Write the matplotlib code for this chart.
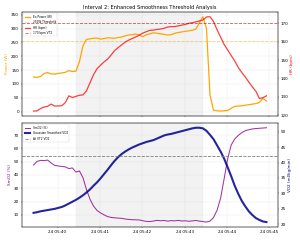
import matplotlib
matplotlib.use("Agg")
import matplotlib.pyplot as plt
import pandas as pd

# datos, cada 5 s desde 05:39:26
t0 = "2024-01-24 05:39:26"
n_pts = 67

power = [125, 124, 127, 138, 141, 136, 136, 138, 140, 142, 148, 145, 146, 180,
         238, 261, 263, 265, 266, 262, 264, 267, 266, 265, 268, 270, 274, 277,
         278, 281, 276, 271, 278, 281, 285, 283, 281, 279, 277, 278, 283, 286,
         288, 290, 292, 294, 298, 322, 343, 300, 60, 5, 3, 2, 3, 4, 12, 19, 20,
         21, 23, 25, 27, 29, 33, 48, 38]

hr = [122.2, 122.3, 123.6, 124.4, 124.8, 126.0, 124.9, 125.0, 125.1, 126.8,
      130.5, 129.6, 130.2, 130.8, 131.0, 133.2, 137.6, 142.0, 145.3, 147.2,
      149.0, 150.5, 152.8, 155.2, 156.8, 158.3, 159.8, 160.9, 161.8, 162.6,
      163.6, 164.7, 165.5, 166.2, 166.3, 166.7, 166.9, 167.3, 168.0, 168.2,
      168.2, 168.6, 169.0, 169.4, 170.0, 170.3, 170.8, 171.3, 171.8, 173.5,
      173.6, 171.0, 166.5, 162.5, 158.5, 155.5, 152.5, 149.5, 146.0, 143.2,
      140.8, 138.0, 135.4, 133.0, 129.0, 129.5, 130.5]

smo2 = [47.5, 50.2, 51.0, 50.8, 51.2, 49.0, 47.2, 46.8, 46.4, 46.1, 44.8, 45.3,
        42.2, 43.0, 38.0, 29.0, 21.8, 16.6, 13.3, 11.5, 10.0, 8.7, 8.1, 7.8,
        7.6, 7.4, 6.9, 6.6, 6.4, 6.3, 6.2, 5.6, 5.1, 5.0, 5.4, 5.9, 5.6, 5.8,
        5.3, 5.7, 5.5, 5.9, 5.4, 5.6, 5.2, 5.5, 5.8, 5.3, 5.0, 4.6, 5.3, 8.0,
        13.5, 22.5, 37.0, 52.0, 62.5, 67.0, 69.7, 71.8, 73.3, 74.0, 74.6, 74.9,
        75.1, 75.3, 75.5]

vo2 = [23.7, 23.9, 24.2, 24.4, 24.6, 24.8, 25.0, 25.3, 25.6, 26.1, 26.7, 27.3,
       27.9, 28.6, 29.4, 30.3, 31.3, 32.5, 33.6, 34.9, 36.3, 37.7, 39.2, 40.6,
       41.8, 42.8, 43.6, 44.3, 44.9, 45.4, 45.9, 46.3, 46.7, 47.0, 47.3, 47.8,
       48.3, 48.8, 49.1, 49.3, 49.6, 49.9, 50.2, 50.5, 50.8, 51.1, 51.3, 51.3,
       51.1, 50.3, 49.0, 47.6, 45.6, 43.6, 41.3, 38.5, 35.6, 32.5, 29.9, 27.6,
       25.8, 24.2, 23.0, 22.0, 21.4, 20.9, 20.7]

power_thr = 255
hr_vt2 = 170
vo2_vt2 = 42.1
int_start = "2024-01-24 05:40:26"
int_end = "2024-01-24 05:43:26"

tiempo = pd.date_range(t0, periods=n_pts, freq="5s")

fig, (ax1, ax3) = plt.subplots(2, 1, figsize=(10, 8), dpi=30, sharex=True)
fig.subplots_adjust(left=0.073, right=0.927, top=0.95, bottom=0.055, hspace=0.07)

# grafica de arriba: potencia y frecuencia cardiaca
ax2 = ax1.twinx()
ax1.axvspan(pd.Timestamp(int_start), pd.Timestamp(int_end), color="gray", alpha=0.1)
l1, = ax1.plot(tiempo, power, color="orange", lw=3, label="Ex Power (W)")
l2 = ax1.axhline(power_thr, color="orange", ls="--", lw=2, alpha=0.5, label="255W Threshold")
l3, = ax2.plot(tiempo, hr, color="red", lw=3, alpha=0.75, label="HR (bpm)")
l4 = ax2.axhline(hr_vt2, color="darkred", ls="--", lw=2, alpha=0.6, label="170 bpm VT2")
ax1.set_ylabel("Power (W)", color="orange", fontsize=10)
ax2.set_ylabel("HR (bpm)", color="red", fontsize=10)
ax1.tick_params(labelsize=10)
ax2.tick_params(labelsize=10)
ax1.grid(alpha=0.3)
ax1.set_title("Interval 2: Enhanced Smoothness Threshold Analysis", fontsize=12)
ax1.legend(handles=[l1, l2, l3, l4], loc="upper left", fontsize=7)

# grafica de abajo: SmO2 y VO2
ax4 = ax3.twinx()
ax3.axvspan(pd.Timestamp(int_start), pd.Timestamp(int_end), color="gray", alpha=0.1)
l5, = ax3.plot(tiempo, smo2, color="darkmagenta", lw=2.5, alpha=0.8, label="SmO2 (%)")
l6, = ax4.plot(tiempo, vo2, color="darkblue", lw=5, alpha=0.85, label="Gaussian Smoothed VO2")
l7 = ax4.axhline(vo2_vt2, color="gray", ls="--", lw=2, label="At VT2 VO2")
ax3.set_ylabel("SmO2 (%)", color="darkmagenta", fontsize=10)
ax4.set_ylabel("VO2 (ml/kg/min)", color="darkblue", fontsize=10)
ax3.tick_params(labelsize=10)
ax4.tick_params(labelsize=10)
ax3.grid(alpha=0.3)
ax3.legend(handles=[l5, l6, l7], loc="upper left", fontsize=7)

fig.savefig("out.png", dpi=30)
